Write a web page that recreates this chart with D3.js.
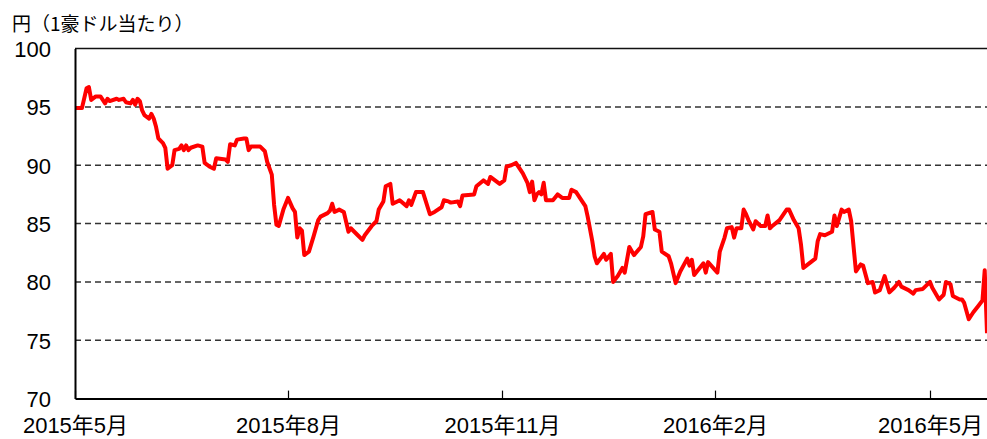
<!DOCTYPE html>
<html>
<head>
<meta charset="utf-8">
<script src="https://cdn.jsdelivr.net/npm/d3@7"></script>
<style>
  body { margin: 0; background: #fff; }
  svg text { font-family: "Liberation Sans", Arial, "Noto Sans CJK JP", sans-serif; fill: #000; }
</style>
</head>
<body>
<svg id="chart" width="987" height="439"></svg>
<script>
// 円/豪ドル レート（目視で読み取った値）
const dates = [
  "2015-05-01","2015-05-04","2015-05-06","2015-05-07","2015-05-08","2015-05-10","2015-05-12","2015-05-14","2015-05-15","2015-05-16",
  "2015-05-19","2015-05-20","2015-05-22","2015-05-23","2015-05-25","2015-05-26","2015-05-27","2015-05-28","2015-05-29","2015-05-30",
  "2015-05-31","2015-06-02","2015-06-03","2015-06-04","2015-06-05","2015-06-06","2015-06-08","2015-06-09","2015-06-10","2015-06-12",
  "2015-06-13","2015-06-15","2015-06-16","2015-06-17","2015-06-18","2015-06-19","2015-06-20","2015-06-23","2015-06-25","2015-06-26",
  "2015-06-28","2015-06-30","2015-07-01","2015-07-05","2015-07-06","2015-07-07","2015-07-09","2015-07-10","2015-07-13","2015-07-14",
  "2015-07-15","2015-07-16","2015-07-20","2015-07-22","2015-07-23","2015-07-25","2015-07-26","2015-07-27","2015-07-28","2015-07-30",
  "2015-08-01","2015-08-03","2015-08-04","2015-08-05","2015-08-06","2015-08-07","2015-08-08","2015-08-10","2015-08-12","2015-08-14",
  "2015-08-15","2015-08-18","2015-08-19","2015-08-20","2015-08-21","2015-08-23","2015-08-25","2015-08-27","2015-08-28","2015-08-31",
  "2015-09-02","2015-09-03","2015-09-06","2015-09-08","2015-09-09","2015-09-11","2015-09-12","2015-09-14","2015-09-15","2015-09-17",
  "2015-09-18","2015-09-21","2015-09-22","2015-09-23","2015-09-25","2015-09-28","2015-10-01","2015-10-03","2015-10-06","2015-10-07",
  "2015-10-09","2015-10-10","2015-10-13","2015-10-14","2015-10-15","2015-10-20","2015-10-21","2015-10-24","2015-10-26","2015-10-27",
  "2015-10-29","2015-10-31","2015-11-02","2015-11-03","2015-11-05","2015-11-07","2015-11-08","2015-11-10","2015-11-12","2015-11-13",
  "2015-11-14","2015-11-15","2015-11-16","2015-11-17","2015-11-18","2015-11-19","2015-11-20","2015-11-23","2015-11-25","2015-11-27",
  "2015-11-30","2015-12-01","2015-12-03","2015-12-04","2015-12-07","2015-12-08","2015-12-10","2015-12-11","2015-12-12","2015-12-15",
  "2015-12-16","2015-12-18","2015-12-19","2015-12-21","2015-12-23","2015-12-24","2015-12-26","2015-12-28","2015-12-31","2016-01-01",
  "2016-01-02","2016-01-05","2016-01-06","2016-01-08","2016-01-09","2016-01-12","2016-01-13","2016-01-15","2016-01-17","2016-01-20",
  "2016-01-21","2016-01-22","2016-01-23","2016-01-27","2016-01-28","2016-01-29","2016-02-02","2016-02-03","2016-02-05","2016-02-06",
  "2016-02-08","2016-02-09","2016-02-10","2016-02-12","2016-02-13","2016-02-14","2016-02-15","2016-02-17","2016-02-18","2016-02-20",
  "2016-02-22","2016-02-23","2016-02-24","2016-02-25","2016-02-28","2016-03-02","2016-03-03","2016-03-05","2016-03-07","2016-03-08",
  "2016-03-09","2016-03-14","2016-03-15","2016-03-16","2016-03-18","2016-03-21","2016-03-22","2016-03-23","2016-03-25","2016-03-26",
  "2016-03-28","2016-03-29","2016-03-31","2016-04-02","2016-04-03","2016-04-05","2016-04-07","2016-04-08","2016-04-10","2016-04-12",
  "2016-04-14","2016-04-16","2016-04-18","2016-04-19","2016-04-22","2016-04-24","2016-04-25","2016-04-28","2016-05-01","2016-05-02",
  "2016-05-05","2016-05-07","2016-05-08","2016-05-10","2016-05-11","2016-05-14","2016-05-15","2016-05-16","2016-05-18","2016-05-20",
  "2016-05-22","2016-05-24","2016-05-25","2016-05-26"
];
const rates = [
  94.9,94.9,96.6,96.7,95.6,95.9,95.9,95.3,95.7,95.5,
  95.7,95.6,95.7,95.4,95.3,95.6,95.2,95.7,95.5,94.7,
  94.3,94.0,94.4,94.0,93.3,92.3,91.9,91.5,89.7,90.0,
  91.3,91.4,91.7,91.3,91.7,91.3,91.5,91.7,91.6,90.2,
  89.9,89.7,90.6,90.5,90.3,91.8,91.7,92.2,92.3,92.3,
  91.3,91.6,91.6,91.2,90.3,89.2,86.6,84.9,84.8,86.2,
  87.2,86.3,86.0,83.8,84.6,84.4,82.3,82.6,83.9,85.3,
  85.6,85.9,86.1,86.7,86.0,86.2,86.0,84.3,84.6,84.0,
  83.6,84.0,84.8,85.2,86.2,86.9,88.2,88.4,86.7,86.9,
  87.0,86.5,87.0,86.6,87.7,87.7,85.8,86.0,86.4,87.0,
  86.9,86.8,86.9,86.5,87.4,87.5,88.2,88.7,88.4,89.0,
  88.7,88.4,88.7,89.9,90.0,90.2,89.9,89.3,88.5,87.7,
  88.6,87.0,87.5,87.7,87.5,88.5,87.0,87.0,87.5,87.2,
  87.2,87.9,87.7,87.4,86.5,85.6,83.5,82.2,81.6,82.4,
  81.9,82.4,80.0,80.5,81.2,80.8,83.0,82.3,83.0,83.9,
  85.8,86.0,84.5,84.3,82.6,82.2,81.6,79.9,80.9,82.0,
  81.4,81.9,80.6,81.6,80.8,81.7,80.8,82.6,83.8,84.6,
  84.7,83.8,84.6,84.6,86.2,85.8,85.3,84.5,85.2,84.8,
  84.8,85.7,84.6,84.8,85.3,86.2,86.2,85.3,84.6,83.2,
  81.2,82.0,83.5,84.1,84.0,84.3,85.7,84.8,86.2,86.0,
  86.2,85.2,80.9,81.5,81.4,79.9,80.0,79.1,79.3,80.5,
  79.1,79.5,80.0,79.6,79.3,79.0,79.3,79.4,80.0,79.5,
  78.5,78.9,80.0,79.8,78.8,78.5,78.5,78.2,76.8,77.4,
  77.9,78.4,81.0,75.6
];
const tickDates = ["2015-05-01", "2015-08-01", "2015-11-01", "2016-02-01", "2016-05-01"];
const tickLabels = ["2015年5月", "2015年8月", "2015年11月", "2016年2月", "2016年5月"];
const yTicks = [70, 75, 80, 85, 90, 95, 100];

const parse = d3.timeParse("%Y-%m-%d");
const data = dates.map((d, i) => ({ date: parse(d), value: rates[i] }));

const plotLeft = 75, plotRight = 987, plotTop = 48.6, plotBottom = 398.6;
const svg = d3.select("#chart");

// 目盛り位置に合わせた区分線形の時間軸
const x = d3.scaleTime()
  .domain([...tickDates.map(parse), parse("2016-05-26")])
  .range([plotLeft, 288, 502, 715, 930, plotRight]);
const y = d3.scaleLinear().domain([70, 100]).range([plotBottom, plotTop]);

// 横の破線グリッド
svg.append("g")
  .selectAll("line")
  .data(yTicks.filter((v) => v > 70 && v < 100))
  .join("line")
  .attr("x1", plotLeft).attr("x2", plotRight)
  .attr("y1", (d) => y(d)).attr("y2", (d) => y(d))
  .attr("stroke", "#333")
  .attr("stroke-width", 1.5)
  .attr("stroke-dasharray", "6,4");

// 上端の線
svg.append("line")
  .attr("x1", plotLeft).attr("x2", plotRight)
  .attr("y1", y(100)).attr("y2", y(100))
  .attr("stroke", "#111").attr("stroke-width", 1.5);

// 折れ線
const line = d3.line().x((d) => x(d.date)).y((d) => y(d.value));
svg.append("path")
  .datum(data)
  .attr("fill", "none")
  .attr("stroke", "#ff0000")
  .attr("stroke-width", 4)
  .attr("stroke-linejoin", "round")
  .attr("d", line);

// Y軸
const yAxis = svg.append("g")
  .attr("transform", `translate(${plotLeft},0)`)
  .call(d3.axisLeft(y).tickValues(yTicks).tickSize(0).tickPadding(24));
yAxis.select(".domain").attr("stroke", "#000").attr("stroke-width", 2);
yAxis.selectAll("text")
  .style("font-size", "22px")
  .attr("dy", "0.36em");

// X軸（目盛りは内向き）
const xAxis = svg.append("g")
  .attr("transform", `translate(0,${plotBottom})`)
  .call(d3.axisBottom(x).tickValues(tickDates.map(parse)).tickSizeInner(-8).tickSizeOuter(0).tickPadding(19)
    .tickFormat((d, i) => tickLabels[i]));
xAxis.select(".domain").attr("stroke", "#000").attr("stroke-width", 2);
xAxis.selectAll(".tick line").attr("stroke", "#000").attr("stroke-width", 1.2);
xAxis.selectAll("text")
  .style("font-size", "22px")
  .attr("dy", "0.71em");

// 単位
svg.append("text")
  .attr("x", 12)
  .attr("y", 31)
  .style("font-family", "'Noto Sans CJK JP', sans-serif")
  .style("font-size", "19px")
  .text("円（1豪ドル当たり）");
</script>
</body>
</html>
